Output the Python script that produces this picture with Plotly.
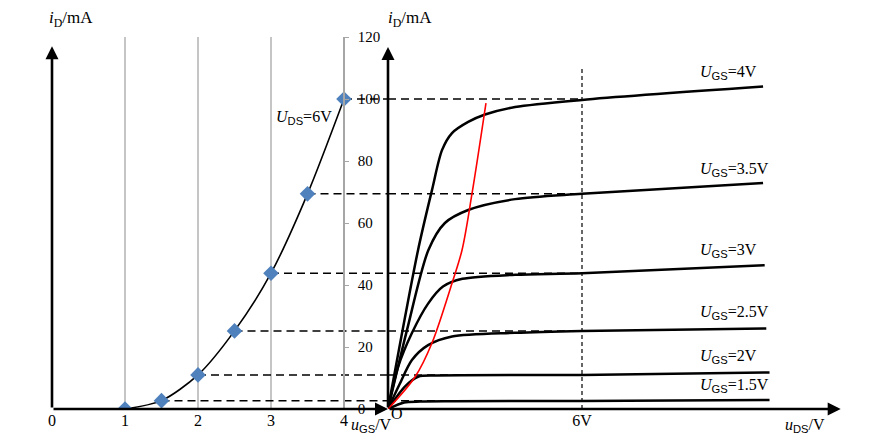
import plotly.graph_objects as go

# ---------------- data ----------------
# transfer characteristic (U_DS = 6 V)
ugs_pts = [1, 1.5, 2, 2.5, 3, 3.5, 4]
id_pts = [0, 2.7, 11, 25.2, 43.8, 69.4, 100]

left_xticks = [0, 1, 2, 3, 4]
left_grid = [1, 2, 3, 4]
y_ticks = [0, 20, 40, 60, 80, 100, 120]

# output characteristics
ugs_names = ["4V", "3.5V", "3V", "2.5V", "2V", "1.5V"]
uds_4 = [0, 0.93, 1.36, 1.67, 1.98, 2.48, 3.0, 3.93, 6, 11.6]
id_4 = [0, 51.3, 70.6, 83.5, 89, 92.6, 95, 97.4, 99.7, 104]
uds_35 = [0, 0.6, 1.25, 1.76, 2.48, 3.93, 6, 11.6]
id_35 = [0, 26, 51.3, 60, 64.2, 67.7, 69.4, 72.9]
uds_3 = [0, 0.31, 0.74, 1.24, 1.7, 2.3, 3.93, 6, 11.65]
id_3 = [0, 13.5, 24.5, 34, 39.5, 42, 43.3, 43.8, 46.4]
uds_25 = [0, 0.35, 0.74, 1.24, 1.98, 3.93, 6, 11.7]
id_25 = [0, 7.8, 15.8, 20.6, 23.4, 24.6, 25.2, 26.0]
uds_2 = [0, 0.53, 0.93, 1.5, 6, 11.8]
id_2 = [0, 7.3, 10.4, 10.8, 11, 11.8]
uds_15 = [0, 0.5, 1.0, 2.0, 6, 11.8]
id_15 = [0, 2.1, 2.4, 2.5, 2.6, 2.9]

# boundary (pre-pinch-off) curve
red_uds = [0, 0.84, 1.36, 1.98, 2.29, 2.6, 3.03]
red_id = [0, 10.4, 21.3, 40.6, 51.3, 69.6, 98.7]

uds_ref = 6          # U_DS = 6 V reference line
uds_ref_top = 110

# ---------------- geometry ----------------
W, H = 870, 444
OFF = 8                       # page body margin
X0L, PXL = 52 - OFF, 73.0     # left panel origin, px per volt
XR0, PXR = 388 - OFF, 194 / 6.0
Y0, PY = 409 - OFF, 3.1
XL_MAX = (XR0 - X0L) / PXL
XR_MAX = 14

FONT = "Liberation Serif"


def sub(s):
    return "<sub><span style=\"font-family:'Liberation Sans'\">" + s + "</span></sub>"


fig = go.Figure()

# left grid lines
for g in left_grid:
    fig.add_shape(type="line", xref="x", yref="y", x0=g, x1=g, y0=0, y1=120,
                  line=dict(color="#a6a6a6", width=1.3), layer="below")

# dashed projections
lx, ly, rx, ry = [], [], [], []
for u, i in zip(ugs_pts, id_pts):
    if i <= 0:
        continue
    lx += [u, XL_MAX, None]
    ly += [i, i, None]
    rx += [0, uds_ref, None]
    ry += [i, i, None]
dash_line = dict(color="black", width=1.5, dash="8px,5px")
fig.add_trace(go.Scatter(x=lx, y=ly, mode="lines", line=dash_line,
                         xaxis="x", yaxis="y", hoverinfo="skip"))
fig.add_trace(go.Scatter(x=rx, y=ry, mode="lines", line=dash_line,
                         xaxis="x2", yaxis="y", hoverinfo="skip"))
fig.add_trace(go.Scatter(x=[uds_ref, uds_ref], y=[0, uds_ref_top], mode="lines",
                         line=dict(color="black", width=1.2, dash="4px,3px"),
                         xaxis="x2", yaxis="y", hoverinfo="skip"))

# transfer curve
fig.add_trace(go.Scatter(x=ugs_pts, y=id_pts, mode="lines",
                         line=dict(color="black", width=1.6, shape="spline", smoothing=0.8),
                         xaxis="x", yaxis="y"))
fig.add_trace(go.Scatter(x=ugs_pts, y=id_pts, mode="markers",
                         marker=dict(symbol="diamond", size=12, color="#4F81BD"),
                         xaxis="x", yaxis="y"))

# output curves
curves = [(uds_4, id_4), (uds_35, id_35), (uds_3, id_3),
          (uds_25, id_25), (uds_2, id_2), (uds_15, id_15)]
for ux, iy in curves:
    fig.add_trace(go.Scatter(x=ux, y=iy, mode="lines",
                             line=dict(color="black", width=2.5, shape="spline", smoothing=0.8),
                             xaxis="x2", yaxis="y"))
fig.add_trace(go.Scatter(x=red_uds, y=red_id, mode="lines",
                         line=dict(color="red", width=1.6, shape="spline", smoothing=0.9),
                         xaxis="x2", yaxis="y"))

# axis arrows
def arrow(xref, x0, y0, x1, y1):
    fig.add_annotation(x=x1, y=y1, ax=x0, ay=y0, xref=xref, yref="y",
                       axref=xref, ayref="y", text="", showarrow=True,
                       arrowhead=2, arrowsize=1, arrowwidth=2.6, arrowcolor="black")

arrow("x", 0, 0, 0, 117)
arrow("x", 0, 0, XL_MAX, 0)
arrow("x2", 0, 0, 0, 116.8)
arrow("x2", 0, 0, 14.0, 0)

# curve labels
label_u = 9.6
label_i = [108.4, 77.1, 51, 31, 16.8, 7.7]
for name, li in zip(ugs_names, label_i):
    fig.add_annotation(x=label_u, y=li, xref="x2", yref="y", xanchor="left", yanchor="middle",
                       text="<i>U</i>" + sub("GS") + "=" + name, showarrow=False,
                       font=dict(family=FONT, size=16, color="black"))

def ptext(px, py, txt, anchor="left", size=16):
    fig.add_annotation(x=(px - OFF) / W, y=1 - (py - OFF) / H, xref="paper", yref="paper",
                       xanchor=anchor, yanchor="middle", text=txt, showarrow=False,
                       font=dict(family=FONT, size=size, color="black"))

ptext(47, 19, "<i>i</i><sub>D</sub>/mA", size=17)
ptext(386, 19, "<i>i</i><sub>D</sub>/mA", size=17)
ptext(349, 425, "<i>u</i>" + sub("GS") + "/V", size=16)
ptext(389, 413, "O", size=16)
ptext(783, 425, "<i>u</i>" + sub("DS") + "/V", size=16)
ptext(274, 117, "<i>U</i>" + sub("DS") + "=6V", size=16)

fig.update_layout(
    width=W, height=H, margin=dict(l=0, r=0, t=0, b=0, autoexpand=False),
    paper_bgcolor="white", plot_bgcolor="white", showlegend=False,
    xaxis=dict(domain=[X0L / W, XR0 / W], range=[0, XL_MAX], anchor="y", automargin=False,
               tickvals=left_xticks, ticktext=[str(v) for v in left_xticks],
               showgrid=False, zeroline=False, showline=False, ticks="",
               tickfont=dict(family=FONT, size=16, color="black")),
    xaxis2=dict(domain=[XR0 / W, (XR0 + XR_MAX * PXR) / W], range=[0, XR_MAX], anchor="y",
                automargin=False, tickvals=[uds_ref], ticktext=["6V"],
                showgrid=False, zeroline=False, showline=False, ticks="",
                tickfont=dict(family=FONT, size=16, color="black")),
    yaxis=dict(domain=[(H - Y0) / H, (H - Y0 + 120 * PY) / H], range=[0, 120],
               anchor="free", position=(X0L + 4 * PXL) / W, side="right", automargin=False,
               tickvals=y_ticks, showgrid=False, zeroline=False,
               showline=True, linecolor="#a6a6a6", linewidth=1.5,
               ticks="outside", ticklen=4, tickcolor="#a6a6a6", ticklabelstandoff=6,
               tickfont=dict(family=FONT, size=15, color="black")),
)

fig.write_html("out.html")
